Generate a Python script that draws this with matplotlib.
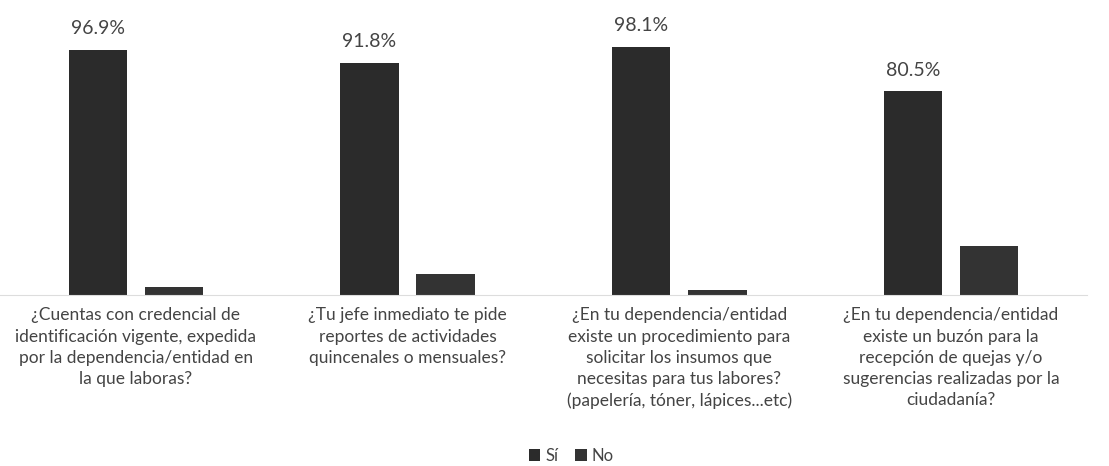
import matplotlib
matplotlib.use('Agg')
import matplotlib.pyplot as plt
import numpy as np

plt.rcParams['font.family'] = ['Lato', 'DejaVu Sans']

# Data
preguntas = [
    '¿Cuentas con credencial de\nidentificación vigente, expedida\npor la dependencia/entidad en\nla que laboras?',
    '¿Tu jefe inmediato te pide\nreportes de actividades\nquincenales o mensuales?',
    '¿En tu dependencia/entidad\nexiste un procedimiento para\nsolicitar los insumos que\nnecesitas para tus labores?\n(papelería, tóner, lápices...etc)',
    '¿En tu dependencia/entidad\nexiste un buzón para la\nrecepción de quejas y/o\nsugerencias realizadas por la\nciudadanía?',
]
si = [96.9, 91.8, 98.1, 80.5]
no = [3.1, 8.2, 1.9, 19.5]

fig = plt.figure(figsize=(11.09, 4.66), dpi=100)
ax = fig.add_axes([0.0, 0.367, 0.98, 0.597])

x = np.arange(len(preguntas))
w = 0.215
off = 0.14
b1 = ax.bar(x - off, si, w, color='#2b2b2b', label='Sí')
b2 = ax.bar(x + off, no, w, color='#333333', label='No')

for rect, v in zip(b1, si):
    ax.text(rect.get_x() + rect.get_width() / 2, v + 5, f'{v}%',
            ha='center', va='bottom', fontsize=14, color='#444444')

ax.set_xlim(-0.5, len(preguntas) - 0.5)
ax.set_ylim(0, 110)
ax.set_xticks(x)
ax.set_xticklabels(preguntas, fontsize=12.5, color='#444444', linespacing=1.4)
ax.tick_params(axis='x', length=0, pad=9)
ax.set_yticks([])
for s in ['top', 'right', 'left']:
    ax.spines[s].set_visible(False)
ax.spines['bottom'].set_color('#dddddd')

fig.legend(handles=[b1, b2], labels=['Sí', 'No'], loc='center', bbox_to_anchor=(0.515, 0.022),
           ncol=2, frameon=False, fontsize=12, handlelength=0.7, handleheight=0.7,
           handletextpad=0.3, columnspacing=1.0, labelcolor='#444444')

fig.savefig('out.png', dpi=100)
